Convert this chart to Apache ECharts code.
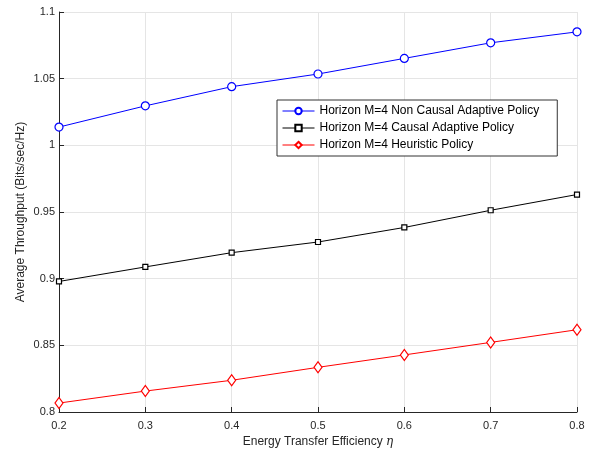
<!DOCTYPE html>
<html><head><meta charset="utf-8">
<script src="https://cdn.jsdelivr.net/npm/echarts@6/dist/echarts.min.js"></script>
<style>html,body{margin:0;padding:0;background:#fff}#c{width:592px;height:453px}</style>
</head><body><div id="c"></div>
<script>
var xValues = [0.2, 0.3, 0.4, 0.5, 0.6, 0.7, 0.8];
var nonCausal = [1.0137, 1.0296, 1.0440, 1.0535, 1.0652, 1.0769, 1.0851];
var causal = [0.8979, 0.9088, 0.9195, 0.9275, 0.9384, 0.9513, 0.9631];
var heuristic = [0.8067, 0.8157, 0.8238, 0.8335, 0.8428, 0.8522, 0.8617];
var seriesNames = ['Horizon M=4 Non Causal Adaptive Policy', 'Horizon M=4 Causal Adaptive Policy', 'Horizon M=4 Heuristic Policy'];

function pairs(ys){ return xValues.map(function(x,i){ return [x, ys[i]]; }); }
var font = 'Liberation Sans, Arial, Helvetica, sans-serif';
var chart = echarts.init(document.getElementById('c'), null, {renderer:'canvas'});
chart.setOption({
  animation: false,
  backgroundColor: '#fff',
  grid: {left: 59, right: 15, top: 12, bottom: 40, containLabel: false},
  legend: {
    orient: 'vertical', left: 277, top: 100,
    backgroundColor: '#fff', borderColor: '#333', borderWidth: 1,
    padding: [5, 18, 5, 5], itemGap: 5, itemWidth: 32, itemHeight: 8,
    lineStyle: {width: 1},
    textStyle: {fontFamily: font, fontSize: 12, color: '#000'},
    data: seriesNames
  },
  xAxis: {
    type: 'value', min: 0.2, max: 0.8, interval: 0.1,
    name: 'Energy Transfer Efficiency {e|η}', nameLocation: 'middle', nameGap: 24,
    nameMoveOverlap: false,
    nameTextStyle: {fontFamily: font, fontSize: 12, color: '#262626', rich: {e: {fontFamily: 'DejaVu Serif, serif', fontStyle: 'italic', fontSize: 12, color: '#262626'}}},
    axisLine: {show: true, lineStyle: {color: '#262626', width: 1}},
    axisTick: {show: true, inside: true, length: 5, lineStyle: {color: '#262626'}},
    axisLabel: {fontFamily: font, fontSize: 11, color: '#262626', margin: 8, formatter: function(v){ return String(parseFloat(v.toFixed(2))); }},
    splitLine: {show: true, lineStyle: {color: '#e5e5e5', width: 1}}
  },
  yAxis: {
    type: 'value', min: 0.8, max: 1.1, interval: 0.05,
    name: 'Average Throughput (Bits/sec/Hz)', nameLocation: 'middle', nameGap: 32,
    nameMoveOverlap: false,
    nameTextStyle: {fontFamily: font, fontSize: 12, color: '#262626'},
    axisLine: {show: true, lineStyle: {color: '#262626', width: 1}},
    axisTick: {show: true, inside: true, length: 5, lineStyle: {color: '#262626'}},
    axisLabel: {fontFamily: font, fontSize: 11, color: '#262626', margin: 4, formatter: function(v){ return String(parseFloat(v.toFixed(2))); }},
    splitLine: {show: true, lineStyle: {color: '#e5e5e5', width: 1}}
  },
  series: [
    {name: seriesNames[0], type: 'line', data: pairs(nonCausal), symbol: 'circle', symbolSize: 8,
      lineStyle: {color: '#0000ff', width: 1}, itemStyle: {color: '#fff', borderColor: '#0000ff', borderWidth: 1.2}},
    {name: seriesNames[1], type: 'line', data: pairs(causal), symbol: 'rect', symbolSize: 5,
      lineStyle: {color: '#000', width: 1}, itemStyle: {color: '#fff', borderColor: '#000', borderWidth: 1.2}},
    {name: seriesNames[2], type: 'line', data: pairs(heuristic), symbol: 'diamond', symbolSize: [8, 11],
      lineStyle: {color: '#ff0000', width: 1}, itemStyle: {color: '#fff', borderColor: '#ff0000', borderWidth: 1.2}}
  ]
});
</script></body></html>
